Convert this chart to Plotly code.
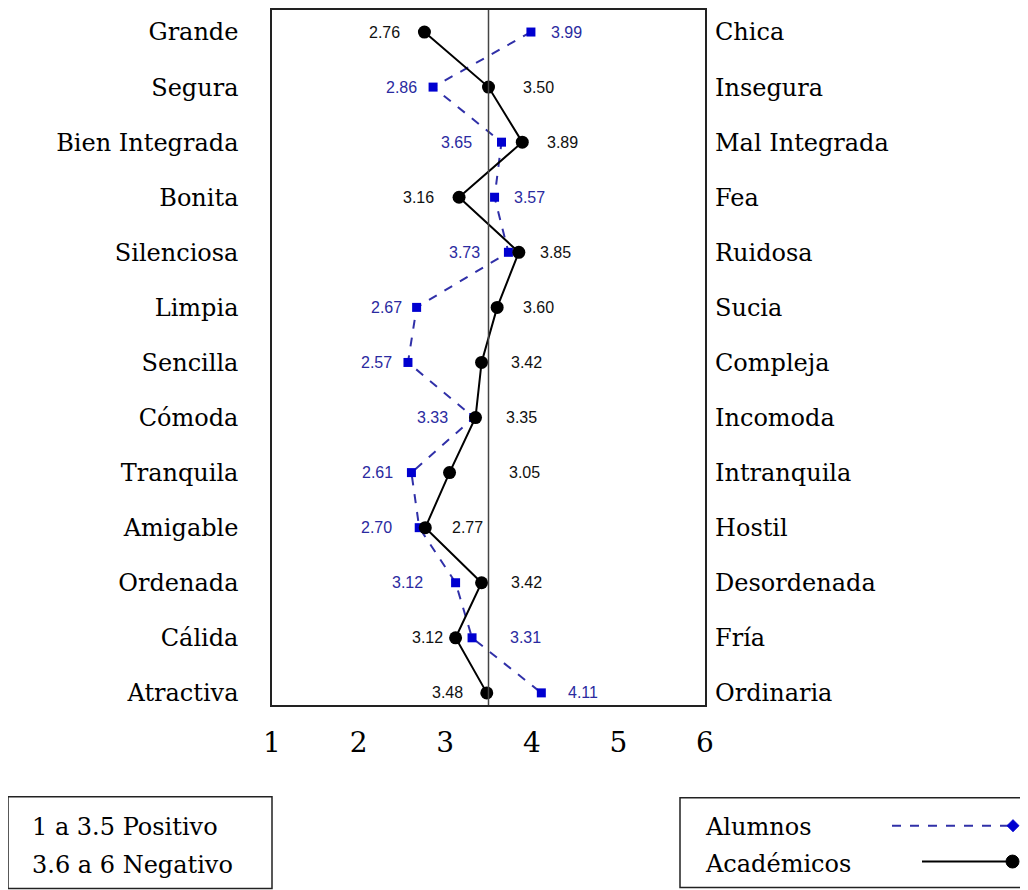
import plotly.graph_objects as go

# ---------------- data ----------------
LEFT_LABELS = ["Grande", "Segura", "Bien Integrada", "Bonita", "Silenciosa", "Limpia",
               "Sencilla", "Cómoda", "Tranquila", "Amigable", "Ordenada", "Cálida", "Atractiva"]
RIGHT_LABELS = ["Chica", "Insegura", "Mal Integrada", "Fea", "Ruidosa", "Sucia",
                "Compleja", "Incomoda", "Intranquila", "Hostil", "Desordenada", "Fría", "Ordinaria"]
ALUMNOS = [3.99, 2.86, 3.65, 3.57, 3.73, 2.67, 2.57, 3.33, 2.61, 2.70, 3.12, 3.31, 4.11]
ACADEMICOS = [2.76, 3.50, 3.89, 3.16, 3.85, 3.60, 3.42, 3.35, 3.05, 2.77, 3.42, 3.12, 3.48]
X_TICKS = [1, 2, 3, 4, 5, 6]
THRESHOLD = 3.5
NOTE_LINES = ["1 a 3.5 Positivo", "3.6 a 6 Negativo"]
SERIES_NAMES = ["Alumnos", "Académicos"]

# ---------------- style ----------------
AL_SHIFT = [36, -32, -45, 35, -44, -30, -31, -41, -34, -43, -48, 53, 42]
AC_SHIFT = [-40, 50, 40, -41, 37, 41, 45, 46, 75, 42, 45, -28, -39]
SERIF = "DejaVu Serif, Liberation Serif, serif"
SANS = "Liberation Sans, Arial, sans-serif"
LABEL_SIZE = 24
BLUE_LINE = "#3030a8"
BLUE_MARK = "#0000d0"
BLUE_TEXT = "#2a2aa0"

# page offset of the figure (body margin) and plot area in page pixels
OFF = 8
W, H = 1020, 882
L, R, T, B = 272 - OFF, 705 - OFF, 8 - OFF, 705 - OFF


def px_x(p):
    """page pixel x -> paper coordinate"""
    return (p - OFF - L) / (R - L)


def px_y(p):
    """page pixel y -> paper coordinate"""
    return (B - (p - OFF)) / (B - T)


YRANGE = [12.22, -0.40]

fig = go.Figure()

fig.add_trace(go.Scatter(
    x=ALUMNOS, y=LEFT_LABELS, mode="lines+markers", name=SERIES_NAMES[0],
    line=dict(color=BLUE_LINE, width=2, dash="dash"),
    marker=dict(symbol="square", size=9, color=BLUE_MARK),
    showlegend=False, hoverinfo="x+y"))

fig.add_trace(go.Scatter(
    x=ACADEMICOS, y=LEFT_LABELS, mode="lines+markers", name=SERIES_NAMES[1],
    line=dict(color="#000000", width=2),
    marker=dict(symbol="circle", size=13, color="#000000"),
    showlegend=False, hoverinfo="x+y"))

# invisible trace to carry the right-hand category axis
fig.add_trace(go.Scatter(
    x=ACADEMICOS, y=RIGHT_LABELS, yaxis="y2", mode="markers",
    marker=dict(opacity=0), showlegend=False, hoverinfo="skip"))

annotations = []
for v, cat, s in zip(ALUMNOS, LEFT_LABELS, AL_SHIFT):
    annotations.append(dict(x=v, y=cat, xref="x", yref="y", text=f"{v:.2f}",
                            showarrow=False, xshift=s,
                            font=dict(family=SANS, size=16, color=BLUE_TEXT)))
for v, cat, s in zip(ACADEMICOS, LEFT_LABELS, AC_SHIFT):
    annotations.append(dict(x=v, y=cat, xref="x", yref="y", text=f"{v:.2f}",
                            showarrow=False, xshift=s,
                            font=dict(family=SANS, size=16, color="#111111")))

# note box text
for i, line in enumerate(NOTE_LINES):
    annotations.append(dict(x=px_x(30), y=px_y(827 + 38 * i), xref="paper", yref="paper",
                            text=line, showarrow=False, xanchor="left", yanchor="middle",
                            font=dict(family=SERIF, size=LABEL_SIZE, color="#000000")))
# legend text
for i, name in enumerate(SERIES_NAMES):
    annotations.append(dict(x=px_x(703), y=px_y(827 + 37 * i), xref="paper", yref="paper",
                            text=name, showarrow=False, xanchor="left", yanchor="middle",
                            font=dict(family=SERIF, size=LABEL_SIZE, color="#000000")))

shapes = [
    dict(type="line", xref="x", yref="paper", x0=THRESHOLD, x1=THRESHOLD, y0=0, y1=1,
         line=dict(color="#444444", width=1.5)),
    # note box
    dict(type="rect", xref="paper", yref="paper", x0=px_x(8), x1=px_x(272),
         y0=px_y(889), y1=px_y(797), line=dict(color="#222222", width=1.5)),
    # legend box
    dict(type="rect", xref="paper", yref="paper", x0=px_x(680), x1=px_x(1027),
         y0=px_y(888), y1=px_y(798), line=dict(color="#222222", width=1.5)),
    # legend samples
    dict(type="line", xref="paper", yref="paper", x0=px_x(892), x1=px_x(1010),
         y0=px_y(826), y1=px_y(826), line=dict(color=BLUE_LINE, width=2, dash="dash")),
    dict(type="path", xref="paper", yref="paper",
         path=(f"M {px_x(1013)} {px_y(820)} L {px_x(1019)} {px_y(826)} "
               f"L {px_x(1013)} {px_y(832)} L {px_x(1007)} {px_y(826)} Z"),
         fillcolor=BLUE_MARK, line=dict(color=BLUE_MARK, width=1)),
    dict(type="line", xref="paper", yref="paper", x0=px_x(922), x1=px_x(1010),
         y0=px_y(862), y1=px_y(862), line=dict(color="#000000", width=2)),
    dict(type="circle", xref="paper", yref="paper", x0=px_x(1006), x1=px_x(1019),
         y0=px_y(868.5), y1=px_y(855.5), fillcolor="#000000", line=dict(color="#000000", width=1)),
]

fig.update_layout(
    width=W, height=H, autosize=False,
    margin=dict(l=L, r=W - R, t=T, b=H - B, pad=0),
    paper_bgcolor="white", plot_bgcolor="white",
    showlegend=False,
    xaxis=dict(range=[1, 6], tickvals=X_TICKS, ticktext=[str(t) for t in X_TICKS],
               showgrid=False, zeroline=False, ticks="",
               showline=True, mirror=True, linecolor="#222222", linewidth=1.5,
               ticklabelstandoff=12,
               tickfont=dict(family=SERIF, size=28, color="#000000")),
    yaxis=dict(type="category", categoryorder="array", categoryarray=LEFT_LABELS,
               range=YRANGE, showgrid=False, zeroline=False, ticks="",
               showline=True, mirror=True, linecolor="#222222", linewidth=1.5,
               ticklabelstandoff=27,
               tickfont=dict(family=SERIF, size=LABEL_SIZE, color="#000000")),
    yaxis2=dict(type="category", categoryorder="array", categoryarray=RIGHT_LABELS,
                overlaying="y", side="right", range=YRANGE,
                showgrid=False, zeroline=False, ticks="", showline=False,
                ticklabelstandoff=9,
                tickfont=dict(family=SERIF, size=LABEL_SIZE, color="#000000")),
    annotations=annotations,
    shapes=shapes,
)

fig.write_html("out.html")
